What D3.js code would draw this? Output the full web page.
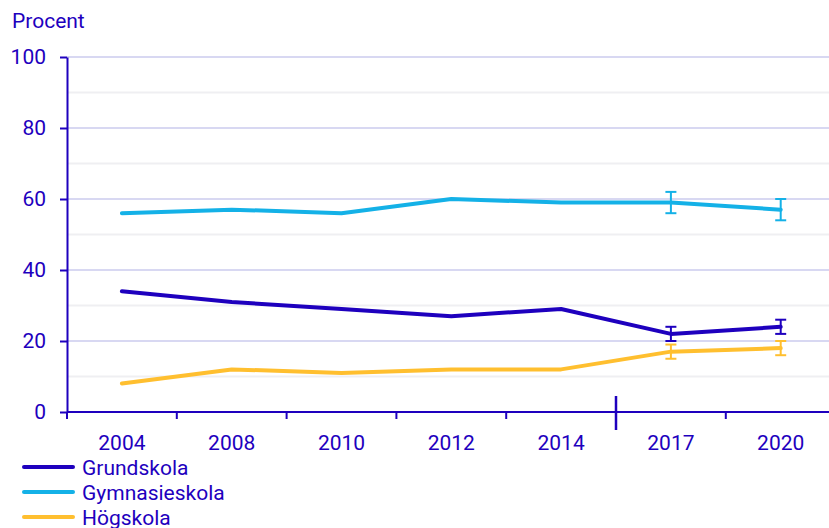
<!DOCTYPE html>
<html>
<head>
<meta charset="utf-8">
<script src="https://cdn.jsdelivr.net/npm/d3@7"></script>
<style>
body { margin: 0; background: #fff; }
text { font-family: Roboto, "Noto Sans", sans-serif; fill: #1e00be; }
</style>
</head>
<body>
<script>
//chart data
var years = ["2004", "2008", "2010", "2012", "2014", "2017", "2020"];
var seriesNames = ["Grundskola", "Gymnasieskola", "Högskola"];
var grundskola = [34, 31, 29, 27, 29, 22, 24];
var gymnasieskola = [56, 57, 56, 60, 59, 59, 57];
var hogskola = [8, 12, 11, 12, 12, 17, 18];
//error bars (low, high) for the last two years
var errYears = ["2017", "2020"];
var grundErr = [[20, 24], [22, 26]];
var gymnErr = [[56, 62], [54, 60]];
var hogErr = [[15, 19], [16, 20]];
var yTicks = [0, 20, 40, 60, 80, 100];
var minorTicks = [10, 30, 50, 70, 90];
var colors = ["#1e00be", "#14b1e7", "#ffbf2f"];

var width = 829, height = 528;
var plotLeft = 67, plotTop = 57, plotBottom = 412;
var fontSize = "21px";

var svg = d3.select("body").append("svg")
    .attr("width", width)
    .attr("height", height);

var x = d3.scaleBand()
    .domain(years)
    .range([plotLeft, plotLeft + 7 * 109.8]);

var y = d3.scaleLinear()
    .domain([0, 100])
    .range([plotBottom, plotTop]);

//grid lines
svg.selectAll(".minor")
    .data(minorTicks)
    .enter()
    .append("line")
    .attr("x1", plotLeft).attr("x2", width)
    .attr("y1", function(d){ return y(d); })
    .attr("y2", function(d){ return y(d); })
    .attr("stroke", "#efeff2")
    .attr("stroke-width", 2);

svg.selectAll(".major")
    .data(yTicks.slice(1))
    .enter()
    .append("line")
    .attr("x1", plotLeft).attr("x2", width)
    .attr("y1", function(d){ return y(d); })
    .attr("y2", function(d){ return y(d); })
    .attr("stroke", "#d8d8f2")
    .attr("stroke-width", 2);

//y axis
var yAxis = svg.append("g")
    .attr("transform", "translate(" + plotLeft + ",0)")
    .call(d3.axisLeft(y).tickValues(yTicks).tickSize(7).tickPadding(14).tickSizeOuter(0));
yAxis.select(".domain").attr("stroke", "#1e00be").attr("stroke-width", 2);
yAxis.selectAll(".tick line").attr("stroke", "#1e00be").attr("stroke-width", 2);
yAxis.selectAll("text")
    .attr("fill", "#1e00be")
    .style("font-size", fontSize)
    .style("font-family", "Roboto, sans-serif");

//x axis
svg.append("line")
    .attr("x1", plotLeft).attr("x2", width)
    .attr("y1", plotBottom).attr("y2", plotBottom)
    .attr("stroke", "#1e00be").attr("stroke-width", 2);

svg.selectAll(".xtick")
    .data(years)
    .enter()
    .append("line")
    .attr("x1", function(d){ return x(d); })
    .attr("x2", function(d){ return x(d); })
    .attr("y1", function(d){ return d == "2017" ? 396 : plotBottom; })
    .attr("y2", function(d){ return d == "2017" ? 430 : plotBottom + 7; })
    .attr("stroke", "#1e00be")
    .attr("stroke-width", function(d){ return d == "2017" ? 2.5 : 2; });

svg.selectAll(".xlabel")
    .data(years)
    .enter()
    .append("text")
    .attr("x", function(d){ return x(d) + x.bandwidth() / 2; })
    .attr("y", 450)
    .attr("text-anchor", "middle")
    .style("font-size", fontSize)
    .text(function(d){ return d; });

//title
svg.append("text")
    .attr("x", 12)
    .attr("y", 28)
    .style("font-size", fontSize)
    .text("Procent");

//lines
var allSeries = [grundskola, gymnasieskola, hogskola];
var allErr = [grundErr, gymnErr, hogErr];
var line = d3.line()
    .x(function(d, i){ return x(years[i]) + x.bandwidth() / 2; })
    .y(function(d){ return y(d); });

allSeries.forEach(function(s, k){
    svg.append("path")
        .datum(s)
        .attr("d", line)
        .attr("fill", "none")
        .attr("stroke", colors[k])
        .attr("stroke-width", 4)
        .attr("stroke-linejoin", "round")
        .attr("stroke-linecap", "round");

    var eb = svg.selectAll(".err" + k)
        .data(allErr[k])
        .enter()
        .append("g")
        .attr("stroke", colors[k])
        .attr("stroke-width", 2);
    eb.append("line")
        .attr("x1", function(d, i){ return x(errYears[i]) + x.bandwidth() / 2; })
        .attr("x2", function(d, i){ return x(errYears[i]) + x.bandwidth() / 2; })
        .attr("y1", function(d){ return y(d[0]); })
        .attr("y2", function(d){ return y(d[1]); });
    [0, 1].forEach(function(j){
        eb.append("line")
            .attr("x1", function(d, i){ return x(errYears[i]) + x.bandwidth() / 2 - 5.5; })
            .attr("x2", function(d, i){ return x(errYears[i]) + x.bandwidth() / 2 + 5.5; })
            .attr("y1", function(d){ return y(d[j]); })
            .attr("y2", function(d){ return y(d[j]); });
    });
});

//legend
var legend = svg.selectAll(".legend")
    .data(seriesNames)
    .enter()
    .append("g")
    .attr("transform", function(d, i){ return "translate(24," + (467 + i * 25) + ")"; });
legend.append("line")
    .attr("x1", 0).attr("x2", 49)
    .attr("stroke", function(d, i){ return colors[i]; })
    .attr("stroke-width", 4)
    .attr("stroke-linecap", "round");
legend.append("text")
    .attr("x", 58)
    .attr("y", 8)
    .style("font-size", fontSize)
    .text(function(d){ return d; });
</script>
</body>
</html>
